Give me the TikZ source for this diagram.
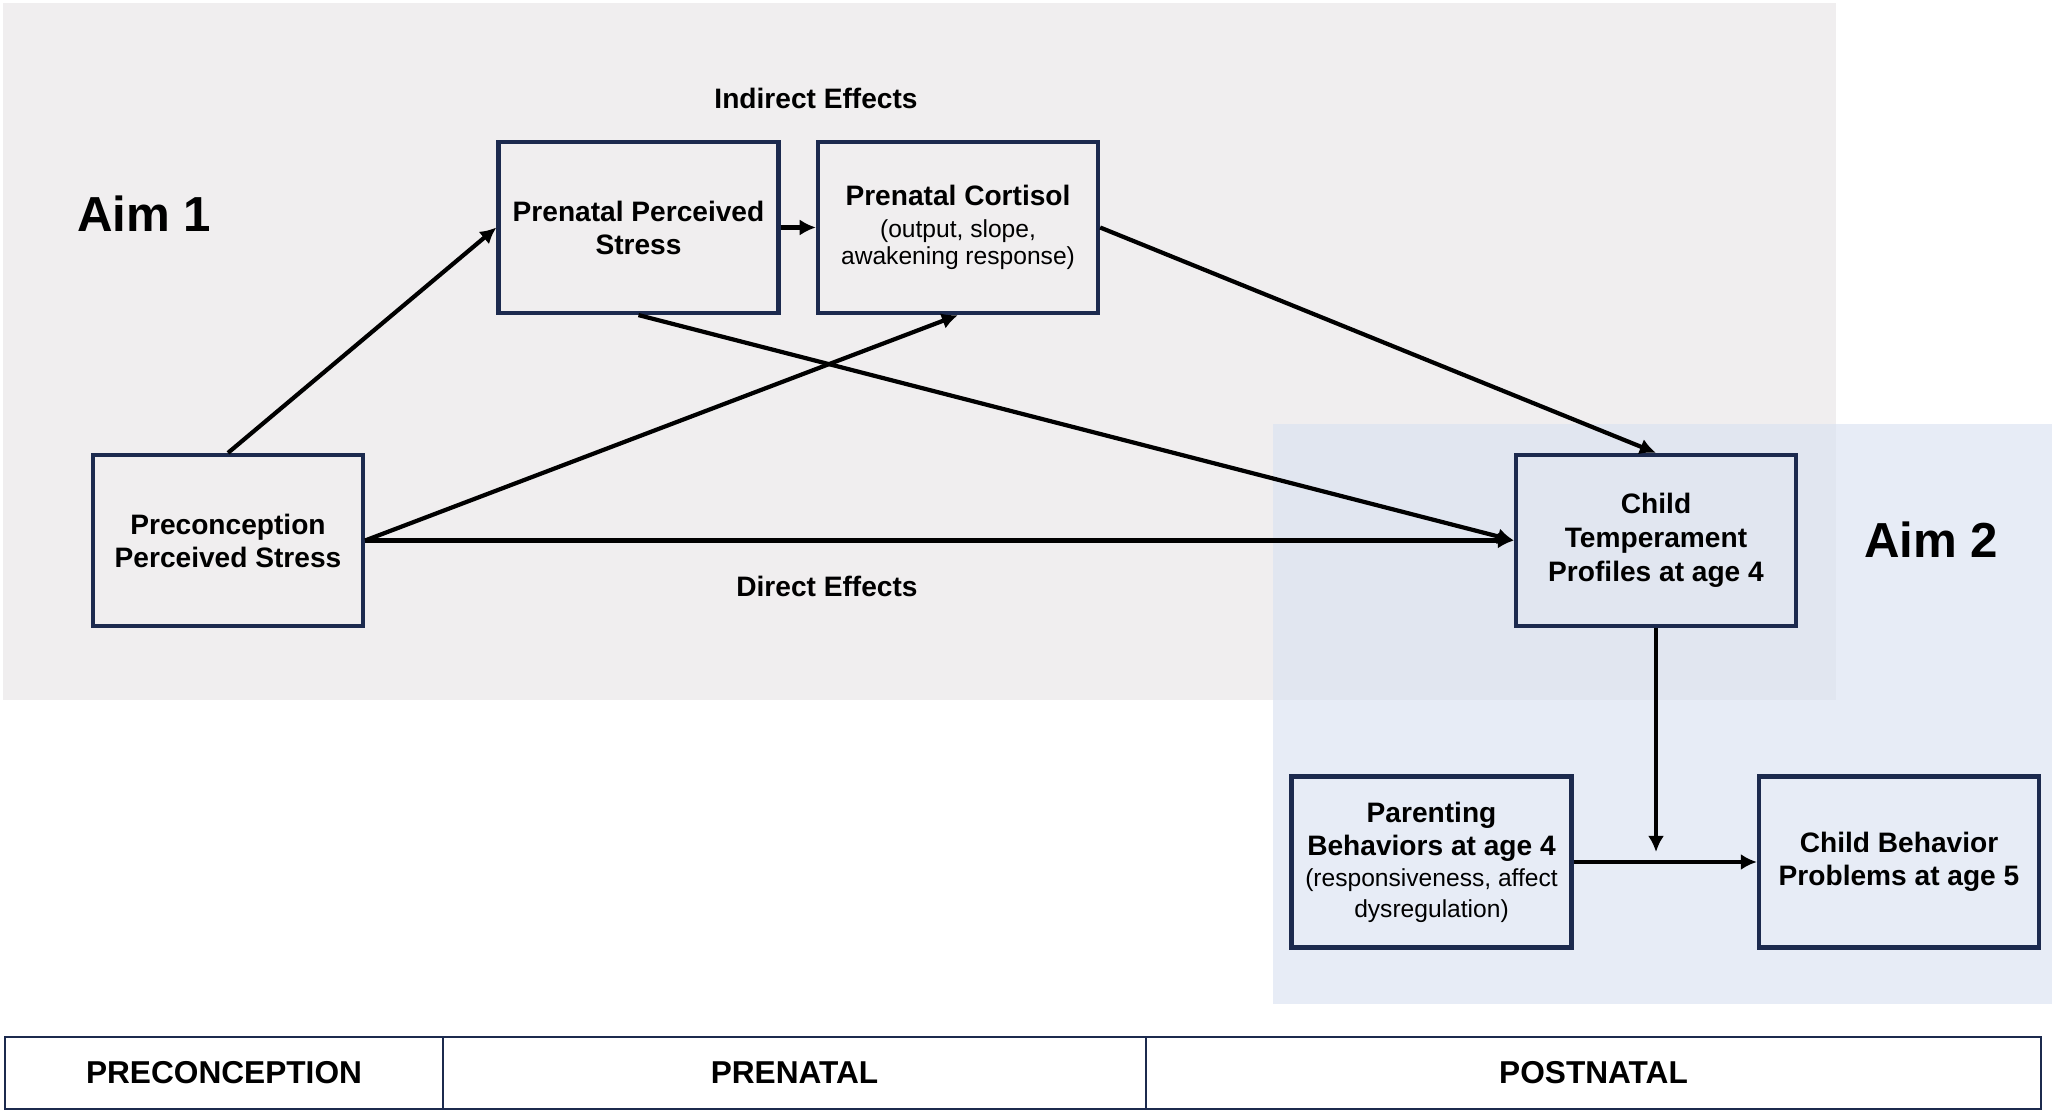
\documentclass[tikz,border=0pt]{standalone}
\usepackage{fontspec}
\setmainfont{Liberation Sans}
\usetikzlibrary{arrows.meta}

\definecolor{aimgray}{RGB}{240,238,239}
\definecolor{aimblue}{RGB}{231,236,246}
\definecolor{aimmix}{RGB}{225,230,240}
\definecolor{boxnavy}{RGB}{28,42,78}

\newcommand{\sub}[1]{{\mdseries\fontsize{7}{8.3}\selectfont #1}}

\begin{document}
\begin{tikzpicture}[
    varbox/.style={draw=boxnavy, line width=1.2pt, minimum width=2.8cm,
      minimum height=1.71cm, align=center, inner sep=2pt,
      font=\fontsize{8}{9.4}\selectfont\bfseries},
    link/.style={line width=1.2pt, -{Latex[length=4.6pt,width=4.6pt]}},
    effect/.style={font=\fontsize{8}{9.4}\selectfont\bfseries},
    aim/.style={font=\fontsize{14}{16}\selectfont\bfseries},
    period/.style={draw=boxnavy, line width=0.5pt, fill=white,
      minimum height=0.72cm, font=\fontsize{9}{10}\selectfont\bfseries}
  ]
  \useasboundingbox (0,0) rectangle (20.56,11.15);

  % aims
  \fill[aimgray] (0.03,4.15) rectangle (18.36,11.12);
  \fill[aimblue] (12.73,1.11) rectangle (20.52,6.91);
  \fill[aimmix] (12.73,4.15) rectangle (18.36,6.91);

  \node[aim] (aimone) at (1.44,9.01) {Aim 1};
  \node[aim] (aimtwo) at (19.31,5.75) {Aim 2};

  % variables
  \node[varbox, minimum width=2.7cm] (pre) at (2.28,5.745) {Preconception\\ Perceived Stress};
  \node[varbox] (pps) at (6.385,8.875) {Prenatal Perceived\\ Stress};
  \node[varbox] (cort) at (9.58,8.875) {Prenatal Cortisol\\[-0.4pt] \sub{(output, slope,}\\[-1.5pt] \sub{awakening response)}};
  \node[varbox] (temp) at (16.56,5.745) {Child\\[0.3pt] Temperament\\[0.3pt] Profiles at age 4};
  \node[varbox] (par) at (14.315,2.53) {Parenting\\ Behaviors at age 4\\[-0.4pt] \sub{(responsiveness, affect}\\[-0.8pt] \sub{dysregulation)}};
  \node[varbox] (beh) at (18.99,2.53) {Child Behavior\\ Problems at age 5};

  \node[effect] (indirect) at (8.16,10.17) {Indirect Effects};
  \node[effect] (direct) at (8.27,5.29) {Direct Effects};

  % paths
  \draw[link] (pre.north) -- (pps.west);
  \draw[link] (pps.east) -- (cort.west);
  \draw[link] (pre.east) -- (cort.south);
  \draw[link] (pre.east) -- (temp.west);
  \draw[link] (pps.south) -- (temp.west);
  \draw[link] (cort.east) -- (temp.north);
  \draw[link] (par.east) -- (beh.west);
  \coordinate (join) at (temp.south |- par.east);
  \draw[link, shorten >=0.1cm] (temp.south) -- (join);

  % timeline
  \node[period, minimum width=4.38cm] (precon) at (2.24,0.42) {PRECONCEPTION};
  \node[period, minimum width=7.03cm] (prenat) at (7.945,0.42) {PRENATAL};
  \node[period, minimum width=8.95cm] (postnat) at (15.935,0.42) {POSTNATAL};
\end{tikzpicture}
\end{document}
